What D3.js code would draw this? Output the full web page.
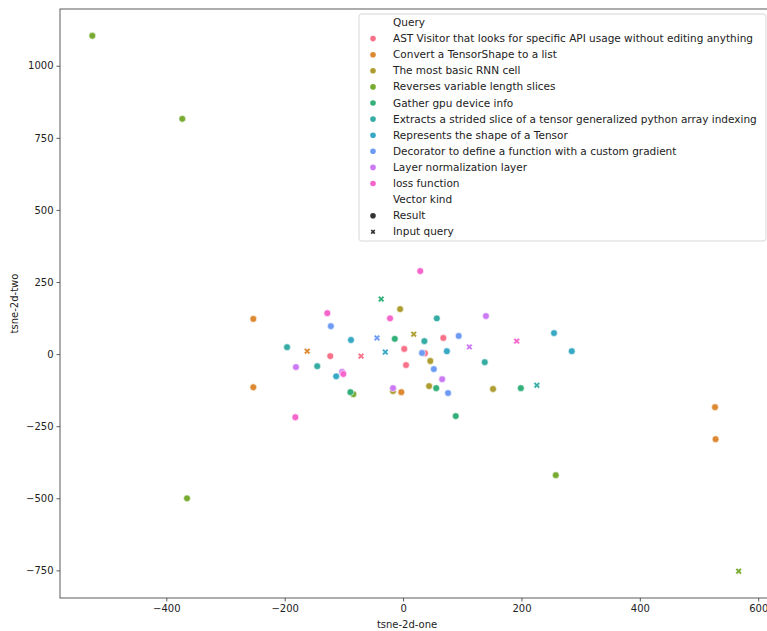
<!DOCTYPE html>
<html>
<head>
<meta charset="utf-8">
<script src="https://cdn.jsdelivr.net/npm/d3@7"></script>
<style>
  body { margin: 0; background: #fff; }
  text { font-family: "DejaVu Sans", sans-serif; }
</style>
</head>
<body>
<div class="chart"></div>
<script>
const queries = [
	"AST Visitor that looks for specific API usage without editing anything",
	"Convert a TensorShape to a list",
	"The most basic RNN cell",
	"Reverses variable length slices",
	"Gather gpu device info",
	"Extracts a strided slice of a tensor generalized python array indexing",
	"Represents the shape of a Tensor",
	"Decorator to define a function with a custom gradient",
	"Layer normalization layer",
	"loss function"
];
const colors = ["#f77189", "#dc8932", "#ae9d31", "#77ab31", "#33b07a",
	"#36ada4", "#38a9c5", "#6e9bf4", "#cc7af4", "#f565cc"];

// five results per query
const resultX = [
	[-123, 2, 68, 37, 5],
	[-253, -253, -3, 527, 528],
	[-5, 46, -17, 44, 152],
	[-525, -373, -365, -84, 258],
	[-14, -89, 56, 89, 199],
	[-196, -145, 57, 36, 138],
	[-88, -113, 74, 255, 285],
	[-122, 94, 32, 52, 76],
	[-181, 140, -103, 66, -17],
	[-128, -22, -101, -182, 29]
];
const resultY = [
	[-7, 18, 56, 3, -38],
	[122, -115, -132, -184, -295],
	[156, -24, -128, -111, -121],
	[1104, 816, -500, -139, -420],
	[53, -132, -118, -215, -118],
	[24, -42, 124, 45, -28],
	[49, -77, 10, 73, 10],
	[97, 63, 4, -52, -135],
	[-45, 132, -62, -87, -118],
	[142, 124, -69, -219, 288]
];
// the input query point for each query
const inputX = [-71, -162, 18, 567, -37, 226, -30, -44, 112, 192];
const inputY = [-7, 10, 69, -753, 191, -108, 7, 56, 25, 45];

const xTicks = [-400, -200, 0, 200, 400, 600];
const yTicks = [-750, -500, -250, 0, 250, 500, 750, 1000];

const W = 767, H = 631;
const margin = ({top: 9, right: -4, bottom: 33, left: 60});
const width = W - margin.left - margin.right;
const height = H - margin.top - margin.bottom;

const results = [];
queries.forEach((q, i) => {
	resultX[i].forEach((x, j) => results.push({q: i, x: x, y: resultY[i][j]}));
});
const inputs = queries.map((q, i) => ({q: i, x: inputX[i], y: inputY[i]}));
const all = results.concat(inputs);

// matplotlib style 5% margins
function padded(ext) {
	const p = (ext[1] - ext[0]) * 0.05;
	return [ext[0] - p, ext[1] + p];
}

const xScale = d3.scaleLinear()
	.domain(padded(d3.extent(all, d => d.x)))
	.range([0, width]);
const yScale = d3.scaleLinear()
	.domain(padded(d3.extent(all, d => d.y)))
	.range([height, 0]);

const svg = d3.select('.chart').append('svg')
	.attr('width', W)
	.attr('height', H)
	.append('g')
	.attr('transform', 'translate(' + margin.left + ',' + margin.top + ')');

const xAxis = d3.axisBottom(xScale).tickValues(xTicks).tickSizeOuter(0).tickSize(3.5).tickPadding(3)
	.tickFormat(d => d < 0 ? "\u2212" + Math.abs(d) : d);
const yAxis = d3.axisLeft(yScale).tickValues(yTicks).tickSizeOuter(0).tickSize(3.5).tickPadding(3)
	.tickFormat(d => d < 0 ? "\u2212" + Math.abs(d) : d);

svg.append('g')
	.attr('class', 'axis x-axis')
	.attr('transform', `translate(0, ${height})`)
	.call(xAxis);
svg.append('g')
	.attr('class', 'axis y-axis')
	.call(yAxis);

svg.selectAll('.axis .domain').remove();
svg.selectAll('.axis line').attr('stroke', '#333').attr('stroke-width', 0.8);
svg.selectAll('.axis text').attr('font-size', '10px').attr('fill', '#222')
	.style('font-family', '"DejaVu Sans", sans-serif');

// frame
svg.append('rect')
	.attr('x', 0).attr('y', 0)
	.attr('width', width).attr('height', height)
	.attr('fill', 'none')
	.attr('stroke', '#333')
	.attr('stroke-width', 0.8);

svg.append('text')
	.attr('x', xScale(0) + 4)
	.attr('y', height + 30)
	.attr('text-anchor', 'middle')
	.attr('font-size', '10px')
	.attr('fill', '#222')
	.text('tsne-2d-one');

svg.append('text')
	.attr('transform', `translate(${-42}, ${height / 2}) rotate(-90)`)
	.attr('text-anchor', 'middle')
	.attr('font-size', '10px')
	.attr('fill', '#222')
	.text('tsne-2d-two');

const crossPath = d3.symbol().type(d3.symbolCross).size(26)();

const marks = svg.append('g');
queries.forEach((q, i) => {
	marks.selectAll('.dot-' + i)
		.data(results.filter(d => d.q === i))
		.enter()
		.append('circle')
		.attr('class', 'dot dot-' + i)
		.attr('cx', d => xScale(d.x))
		.attr('cy', d => yScale(d.y))
		.attr('r', 3.4)
		.attr('fill', colors[i])
		.attr('stroke', '#fff')
		.attr('stroke-width', 0.6);
});
marks.selectAll('.input')
	.data(inputs)
	.enter()
	.append('path')
	.attr('class', 'input')
	.attr('d', crossPath)
	.attr('transform', d => `translate(${xScale(d.x)},${yScale(d.y)}) rotate(45)`)
	.attr('fill', d => colors[d.q])
	.attr('stroke', '#fff')
	.attr('stroke-width', 0.5);

// legend
const lx = 359 - margin.left, ly = 14 - margin.top;
const legend = svg.append('g').attr('transform', `translate(${lx},${ly})`);
legend.append('rect')
	.attr('width', 407).attr('height', 227)
	.attr('rx', 2.5)
	.attr('fill', 'rgba(255,255,255,0.8)')
	.attr('stroke', '#ccc')
	.attr('stroke-width', 0.8);

const rows = [{label: 'Query'}]
	.concat(queries.map((q, i) => ({label: q, color: colors[i], kind: 'dot'})))
	.concat([{label: 'Vector kind'}, {label: 'Result', color: '#333', kind: 'dot'},
		{label: 'Input query', color: '#333', kind: 'x'}]);

const row = legend.selectAll('.row')
	.data(rows)
	.enter()
	.append('g')
	.attr('class', 'row')
	.attr('transform', (d, i) => `translate(0, ${8 + i * 16.1})`);

row.append('text')
	.attr('x', 34)
	.attr('y', 4)
	.attr('font-size', '10.5px')
	.attr('fill', '#222')
	.text(d => d.label);

row.filter(d => d.kind === 'dot')
	.append('circle')
	.attr('cx', 14).attr('cy', 0.5)
	.attr('r', 2.8)
	.attr('fill', d => d.color);

row.filter(d => d.kind === 'x')
	.append('path')
	.attr('d', d3.symbol().type(d3.symbolCross).size(14)())
	.attr('transform', 'translate(14,0.5) rotate(45)')
	.attr('fill', d => d.color);
</script>
</body>
</html>
